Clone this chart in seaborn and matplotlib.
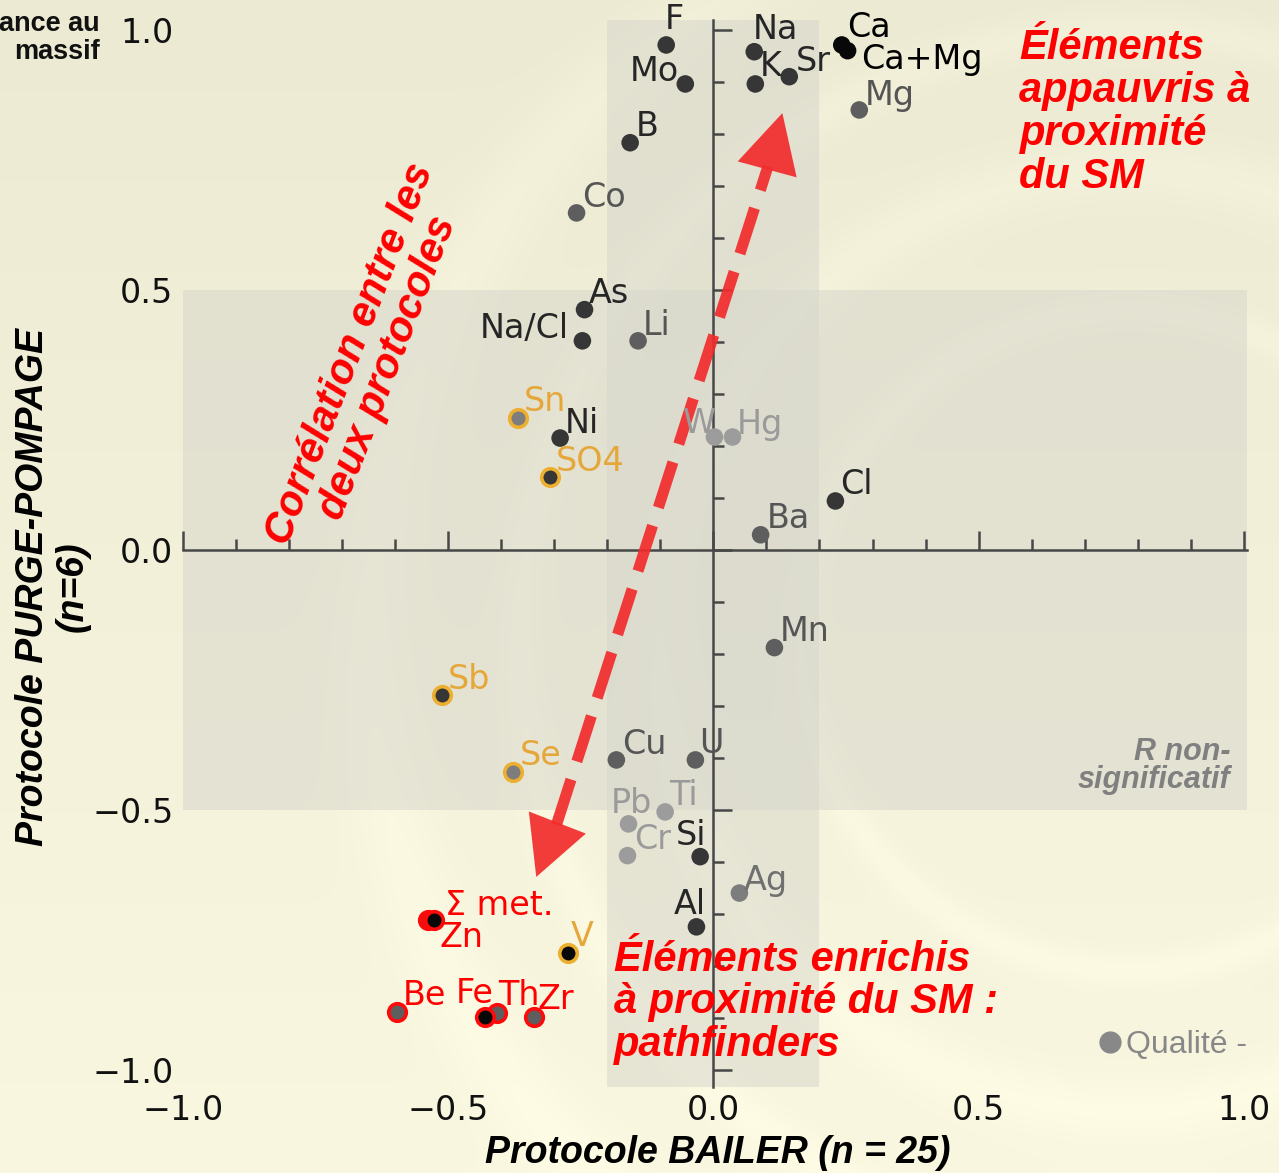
import numpy as np
import pandas as pd
import matplotlib
matplotlib.use("Agg")
import matplotlib.pyplot as plt
from matplotlib.lines import Line2D
from matplotlib.patches import FancyArrowPatch
from matplotlib.ticker import MultipleLocator
import seaborn as sns

# ---------------------------------------------------------------- data
elements = ["F", "Mo", "B", "Na", "K", "Sr", "Ca", "Ca+Mg", "Mg", "Co",
            "As", "Na/Cl", "Li", "Sn", "Ni", "SO4", "W", "Hg", "Cl", "Ba",
            "Mn", "Sb", "Se", "Cu", "U", "Pb", "Ti", "Cr", "Si", "Ag",
            "Al", "Σ met.", "Zn", "V", "Be", "Fe", "Th", "Zr"]
r_bailer = [-0.089, -0.053, -0.157, 0.077, 0.079, 0.143, 0.242, 0.253, 0.275, -0.258,
            -0.243, -0.247, -0.142, -0.368, -0.289, -0.308, 0.002, 0.036, 0.230, 0.089,
            0.115, -0.511, -0.377, -0.183, -0.034, -0.160, -0.091, -0.162, -0.025, 0.049,
            -0.032, -0.526, -0.538, -0.274, -0.596, -0.430, -0.408, -0.338]
r_purge = [0.971, 0.896, 0.783, 0.958, 0.896, 0.910, 0.971, 0.960, 0.846, 0.648,
           0.462, 0.402, 0.402, 0.254, 0.215, 0.140, 0.217, 0.217, 0.094, 0.029,
           -0.188, -0.279, -0.427, -0.404, -0.404, -0.527, -0.504, -0.588, -0.590, -0.660,
           -0.725, -0.712, -0.712, -0.775, -0.888, -0.898, -0.890, -0.898]
quality = ["dark", "dark", "dark", "dark", "dark", "dark", "black", "black", "mid", "mid",
           "dark", "dark", "mid", "grey", "dark", "dark", "light", "light", "dark", "mid",
           "mid", "dark", "grey", "mid", "mid", "light", "light", "light", "dark", "grey",
           "dark", "black", "red", "black", "mid", "black", "mid", "mid"]
ring = ["none"] * 13 + ["orange", "none", "orange"] + ["none"] * 5 + ["orange", "orange"] \
       + ["none"] * 8 + ["red", "red", "orange", "red", "red", "red", "red"]

# label placement (offset in pixels from the point centre)
label_offset = {
    "F": (8, 25), "Mo": (-31, 12), "B": (17, 16), "Na": (21, 22), "K": (15, 17),
    "Sr": (24, 15), "Ca": (27, 17), "Ca+Mg": (74, -9), "Mg": (30, 14), "Co": (27, 15),
    "As": (24, 16), "Na/Cl": (-58, 12), "Li": (19, 15), "Sn": (27, 16), "Ni": (22, 15),
    "SO4": (40, 16), "W": (-15, 14), "Hg": (27, 13), "Cl": (21, 16), "Ba": (28, 16),
    "Mn": (30, 16), "Sb": (27, 15), "Se": (27, 16), "Cu": (28, 15), "U": (16, 16),
    "Pb": (3, 20), "Ti": (18, 16), "Cr": (25, 16), "Si": (-9, 21), "Ag": (26, 13),
    "Al": (-7, 22), "Σ met.": (65, 15), "Zn": (33, -17), "V": (14, 16), "Be": (27, 16),
    "Fe": (-11, 23), "Th": (22, 17), "Zr": (22, 17),
}

fill_colors = {"black": "#080808", "dark": "#363636", "mid": "#5e5e5e",
               "grey": "#7d7d7d", "light": "#9c9c9c", "red": "#ee1111"}
text_colors = {"black": "#000000", "dark": "#262626", "mid": "#555555",
               "grey": "#707070", "light": "#9a9a9a", "red": "#ff0000"}
ring_colors = {"none": "none", "orange": "#EDAF30", "red": "#FF0A0A"}
ring_text = {"orange": "#E6A73A", "red": "#FF0000"}
# drawing order of the tone groups (later ones sit on top)
tone_order = ["red", "light", "grey", "mid", "dark", "black"]

df = pd.DataFrame({"element": elements, "bailer": r_bailer, "purge": r_purge,
                   "quality": quality, "ring": ring})

# ---------------------------------------------------------------- figure
W, H = 1279, 1173
fig = plt.figure(figsize=(W / 100, H / 100), dpi=100)

# soft cream backdrop with faint light arcs
yy, xx = np.mgrid[0:H, 0:W]
t = (yy / H)[..., None]
top = np.array([236, 234, 211.0])
bottom = np.array([249, 247, 224.0])
img = top * (1 - t) + bottom * t
rr = np.hypot(xx - 1130, yy - 640)
glow = np.zeros_like(rr)
for R, w in [(330, 18), (470, 30), (610, 22), (760, 40)]:
    glow += np.exp(-((rr - R) / w) ** 2)
img = img + 5.0 * glow[..., None]
img = np.clip(img, 0, 255).astype(np.uint8)
bg = fig.add_axes([0, 0, 1, 1], zorder=-10)
bg.imshow(img, aspect="auto", interpolation="bilinear")
bg.axis("off")

ax_pos = [183 / W, 1 - 1087 / H, (1247 - 183) / W, (1087 - 20) / H]
XLIM = (-1.0, 1.006)
YLIM = (-1.033, 1.019)

# frame axes carrying only the tick labels
ax_lab = fig.add_axes(ax_pos, zorder=1)
ax_lab.set_facecolor("none")
ax_lab.set_xlim(*XLIM)
ax_lab.set_ylim(*YLIM)
for s in ax_lab.spines.values():
    s.set_visible(False)
ax_lab.set_xticks([-1.0, -0.5, 0.0, 0.5, 1.0])
ax_lab.set_yticks([-1.0, -0.5, 0.0, 0.5, 1.0])
ax_lab.xaxis.set_major_formatter(lambda v, p: f"{v:.1f}".replace("-", "\u2212"))
ax_lab.yaxis.set_major_formatter(lambda v, p: f"{v:.1f}".replace("-", "\u2212"))
ax_lab.tick_params(length=0, labelsize=24, labelcolor="#111111")
ax_lab.tick_params(axis="x", pad=5)
ax_lab.tick_params(axis="y", pad=7)

# data axes with the axes crossing at the origin
ax = fig.add_axes(ax_pos, zorder=2)
ax.set_facecolor("none")
ax.set_xlim(*XLIM)
ax.set_ylim(*YLIM)

band = "#d6d6cc"
ax.axvspan(-0.2, 0.2, color=band, alpha=0.5, lw=0, zorder=0)
ax.axhspan(-0.5, 0.5, color=band, alpha=0.5, lw=0, zorder=0)

for s in ["top", "right"]:
    ax.spines[s].set_visible(False)
for s in ["left", "bottom"]:
    ax.spines[s].set_position(("data", 0))
    ax.spines[s].set_color("#474747")
    ax.spines[s].set_linewidth(1.8)
for axis in (ax.xaxis, ax.yaxis):
    axis.set_major_locator(MultipleLocator(0.5))
    axis.set_minor_locator(MultipleLocator(0.1))
ax.tick_params(which="both", direction="in", labelleft=False, labelbottom=False,
               color="#474747", width=1.8)
ax.tick_params(which="major", length=14)
ax.tick_params(which="minor", length=8)

# dashed double arrow (correlation direction)
red = "#F22C2C"
tip_up, base_up = (0.130, 0.840), (0.103, 0.738)
tip_dn, base_dn = (-0.334, -0.629), (-0.296, -0.529)
ax.plot([base_dn[0], base_up[0]], [base_dn[1], base_up[1]], color=red, lw=8,
        alpha=0.92, dashes=(4.3, 1.7), solid_capstyle="butt", dash_capstyle="butt",
        zorder=3)
for base, tip in [(base_up, tip_up), (base_dn, tip_dn)]:
    ax.add_patch(FancyArrowPatch(base, tip,
                                 arrowstyle="-|>,head_length=42,head_width=22",
                                 mutation_scale=1, color=red, alpha=0.92, lw=0,
                                 shrinkA=0, shrinkB=0, zorder=3))

# points, grouped by fill tone and outline colour
groups = sorted(df.groupby(["quality", "ring"]), key=lambda g: tone_order.index(g[0][0]))
for (q, rg), sub in groups:
    sns.scatterplot(data=sub, x="bailer", y="purge", ax=ax, s=160,
                    color=fill_colors[q], edgecolor=ring_colors[rg],
                    linewidth=0 if rg == "none" else 2.6, legend=False, zorder=5)
ax.set_xlabel("")
ax.set_ylabel("")

for _, row in df.iterrows():
    col = ring_text.get(row["ring"], text_colors[row["quality"]])
    dx, dy = label_offset[row["element"]]
    ax.annotate(row["element"], (row["bailer"], row["purge"]), xytext=(dx, dy),
                textcoords="offset pixels", ha="center", va="center",
                fontsize=24, color=col, zorder=6)

# annotations
sans = ["Liberation Sans", "DejaVu Sans"]
bi = dict(fontweight="bold", fontstyle="italic", family=sans)
ax.text(0.577, 1.004, "Éléments\nappauvris à\nproximité\ndu SM", color="#FF0000",
        fontsize=30, ha="left", va="top", linespacing=1.1, zorder=7, **bi)
ax.text(-0.187, -0.750, "Éléments enrichis\nà proximité du SM :\npathfinders",
        color="#FF0000", fontsize=30, ha="left", va="top", linespacing=1.08, zorder=7, **bi)
ax.text(-0.649, 0.363, "Corrélation entre les\ndeux protocoles", color="#FF0000",
        fontsize=30, ha="center", va="center", multialignment="center",
        rotation=69, rotation_mode="anchor", linespacing=1.0, zorder=7, **bi)
ax.text(0.974, -0.415, "R non-\nsignificatif", color="#808080", fontsize=22,
        ha="right", va="center", multialignment="right", linespacing=0.92, zorder=7, **bi)

ax.legend(handles=[Line2D([], [], marker="o", ls="", color="#888888", markersize=15)],
          labels=["Qualité -"], loc="lower right", bbox_to_anchor=(1.012, 0.013),
          frameon=False, labelcolor="#888888", handletextpad=0.0,
          handlelength=1.0, borderaxespad=0.0, prop={"family": sans, "size": 23})

fig.text(718 / W, 1 - 1153 / H, "Protocole BAILER (n = 25)", ha="center", va="center",
         fontsize=27, color="#000000", **bi)
fig.text(53 / W, 1 - 587 / H, "Protocole PURGE-POMPAGE\n(n=6)", ha="center",
         va="center", multialignment="center", rotation=90, fontsize=27,
         linespacing=1.15, color="#000000", **bi)
fig.text(100 / W, 1 - 38 / H, "ance au\nmassif", ha="right", va="center",
         multialignment="right", fontsize=19.5, fontweight="bold", color="#111111",
         family=sans, linespacing=1.1)

fig.savefig("out.png", dpi=100)
